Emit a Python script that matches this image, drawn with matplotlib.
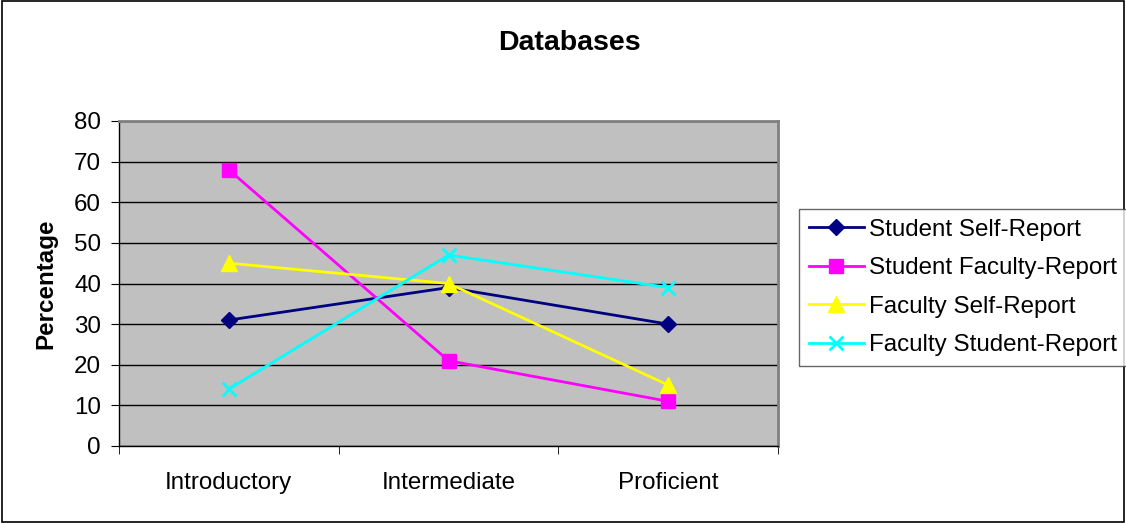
import matplotlib
matplotlib.use("Agg")
import matplotlib.pyplot as plt
from matplotlib.patches import Rectangle

plt.rcParams['font.family'] = ['Liberation Sans', 'DejaVu Sans']

categories = ["Introductory", "Intermediate", "Proficient"]
series_names = ["Student Self-Report", "Student Faculty-Report",
                "Faculty Self-Report", "Faculty Student-Report"]
student_self = [31, 39, 30]
student_faculty = [68, 21, 11]
faculty_self = [45, 40, 15]
faculty_student = [14, 47, 39]
yticks = [0, 10, 20, 30, 40, 50, 60, 70, 80]

series = [student_self, student_faculty, faculty_self, faculty_student]
colors = ["#000080", "#FF00FF", "#FFFF00", "#00FFFF"]
markers = ["D", "s", "^", "x"]
msizes = [8, 10, 11, 10]

fig = plt.figure(figsize=(11.26, 5.23), dpi=100)
fig.patches.append(Rectangle((0.0015, 0.002), 0.997, 0.996, transform=fig.transFigure,
                             fill=False, edgecolor="black", linewidth=1.2))

ax = fig.add_axes([119/1126, 1-446/523, (778-119)/1126, (446-121)/523])
ax.set_facecolor("#C0C0C0")

x = list(range(len(categories)))
handles = []
for vals, c, m, ms, name in zip(series, colors, markers, msizes, series_names):
    h, = ax.plot(x, vals, color=c, marker=m, markersize=ms, linewidth=2,
                 markeredgewidth=2 if m == "x" else 1, markeredgecolor=c,
                 label=name, zorder=3)
    handles.append(h)

fs = 17.4
ax.set_xlim(-0.5, len(categories) - 0.5)
ax.set_ylim(0, 80)
ax.set_yticks(yticks)
ax.set_yticklabels([str(v) for v in yticks], fontsize=fs)
ax.yaxis.grid(True, color="black", linewidth=1)
ax.set_axisbelow(True)
ax.set_xticks(x)
ax.set_xticklabels(categories, fontsize=fs)
ax.tick_params(axis='x', which='major', length=0, pad=19)
ax.set_xticks([i - 0.5 for i in range(len(categories) + 1)], minor=True)
ax.tick_params(axis='x', which='minor', length=6, direction='out', color='black')
ax.tick_params(axis='y', length=6, direction='out', color='black', pad=7)

for side in ['top', 'right']:
    ax.spines[side].set_color('#808080')
    ax.spines[side].set_linewidth(2)
for side in ['left', 'bottom']:
    ax.spines[side].set_color('black')
    ax.spines[side].set_linewidth(1)

ax.set_ylabel("Percentage", fontsize=fs, fontweight='bold', labelpad=12)
fig.text(569/1126, 1-43/523, "Databases", fontsize=20.5, fontweight='bold',
         ha='center', va='center')

leg = fig.legend(handles=handles, loc='upper left',
                 bbox_to_anchor=(799/1126, 1-209/523), fontsize=fs,
                 frameon=True, fancybox=False, edgecolor='#404040',
                 handlelength=2.3, handletextpad=0.2, borderpad=0.4,
                 labelspacing=0.68, borderaxespad=0)
leg.get_frame().set_linewidth(1)

fig.savefig("out.png", dpi=100)
